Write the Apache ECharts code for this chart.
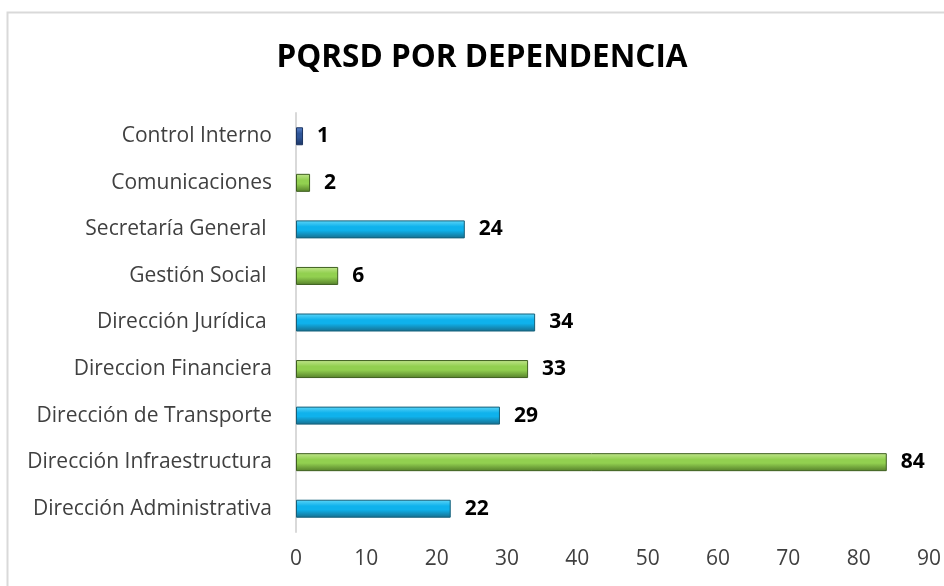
<!DOCTYPE html>
<html><head><meta charset="utf-8">
<script src="https://cdn.jsdelivr.net/npm/echarts@6/dist/echarts.min.js"></script>
<style>html,body{margin:0;padding:0;background:#fff}#c{width:944px;height:586px}</style>
</head><body><div id="c"></div>
<script>
const categories = ['Dirección Administrativa','Dirección Infraestructura','Dirección de Transporte','Direccion Financiera','Dirección Jurídica ','Gestión Social ','Secretaría General ','Comunicaciones','Control Interno'];
const values = [22, 84, 29, 33, 34, 6, 24, 2, 1];
const colorKeys = ['blue','green','blue','green','blue','green','blue','green','navy'];
const xTicks = {min: 0, max: 90, interval: 10};

function grad(top, mid, bot) {
  return new echarts.graphic.LinearGradient(0, 0, 0, 1, [
    {offset: 0, color: top}, {offset: 0.35, color: mid}, {offset: 0.55, color: mid}, {offset: 1, color: bot}
  ]);
}
const palette = {
  blue: {fill: grad('#5fd6f8', '#0fb2ec', '#176d8c'), border: '#15607a'},
  green: {fill: grad('#c2e68e', '#92d050', '#557f2a'), border: '#3f6020'},
  navy: {fill: grad('#5b84cc', '#2f5597', '#1c3461'), border: '#1c3461'}
};
const FONT = 'Open Sans';
const chart = echarts.init(document.getElementById('c'));
chart.setOption({
  animation: false,
  graphic: [{type: 'rect', shape: {x: 7.5, y: 12.5, width: 1000, height: 1000}, style: {fill: 'none', stroke: '#d9d9d9', lineWidth: 2}}],
  title: {text: 'PQRSD POR DEPENDENCIA', left: 477, top: 37, textAlign: 'center',
    textStyle: {fontFamily: FONT, fontWeight: 'bold', fontSize: 31.5, color: '#000'}},
  grid: {left: 296, right: 14, top: 113, bottom: 54, containLabel: false},
  xAxis: {type: 'value', min: xTicks.min, max: xTicks.max, interval: xTicks.interval,
    axisLine: {show: false}, axisTick: {show: false}, splitLine: {show: false},
    axisLabel: {fontFamily: FONT, fontSize: 21, color: '#404040', margin: 17}},
  yAxis: {type: 'category', data: categories,
    axisLine: {show: true, lineStyle: {color: '#d9d9d9', width: 2}}, axisTick: {show: false},
    axisLabel: {fontFamily: FONT, fontSize: 21, color: '#404040', margin: 24}},
  series: [{type: 'bar', barWidth: 18,
    data: values.map((v, i) => ({value: v, itemStyle: {color: palette[colorKeys[i]].fill, borderColor: palette[colorKeys[i]].border, borderWidth: 1}})),
    label: {show: true, position: 'right', distance: 14, fontFamily: FONT, fontWeight: 'bold', fontSize: 21, color: '#000'}
  }]
});
</script></body></html>
